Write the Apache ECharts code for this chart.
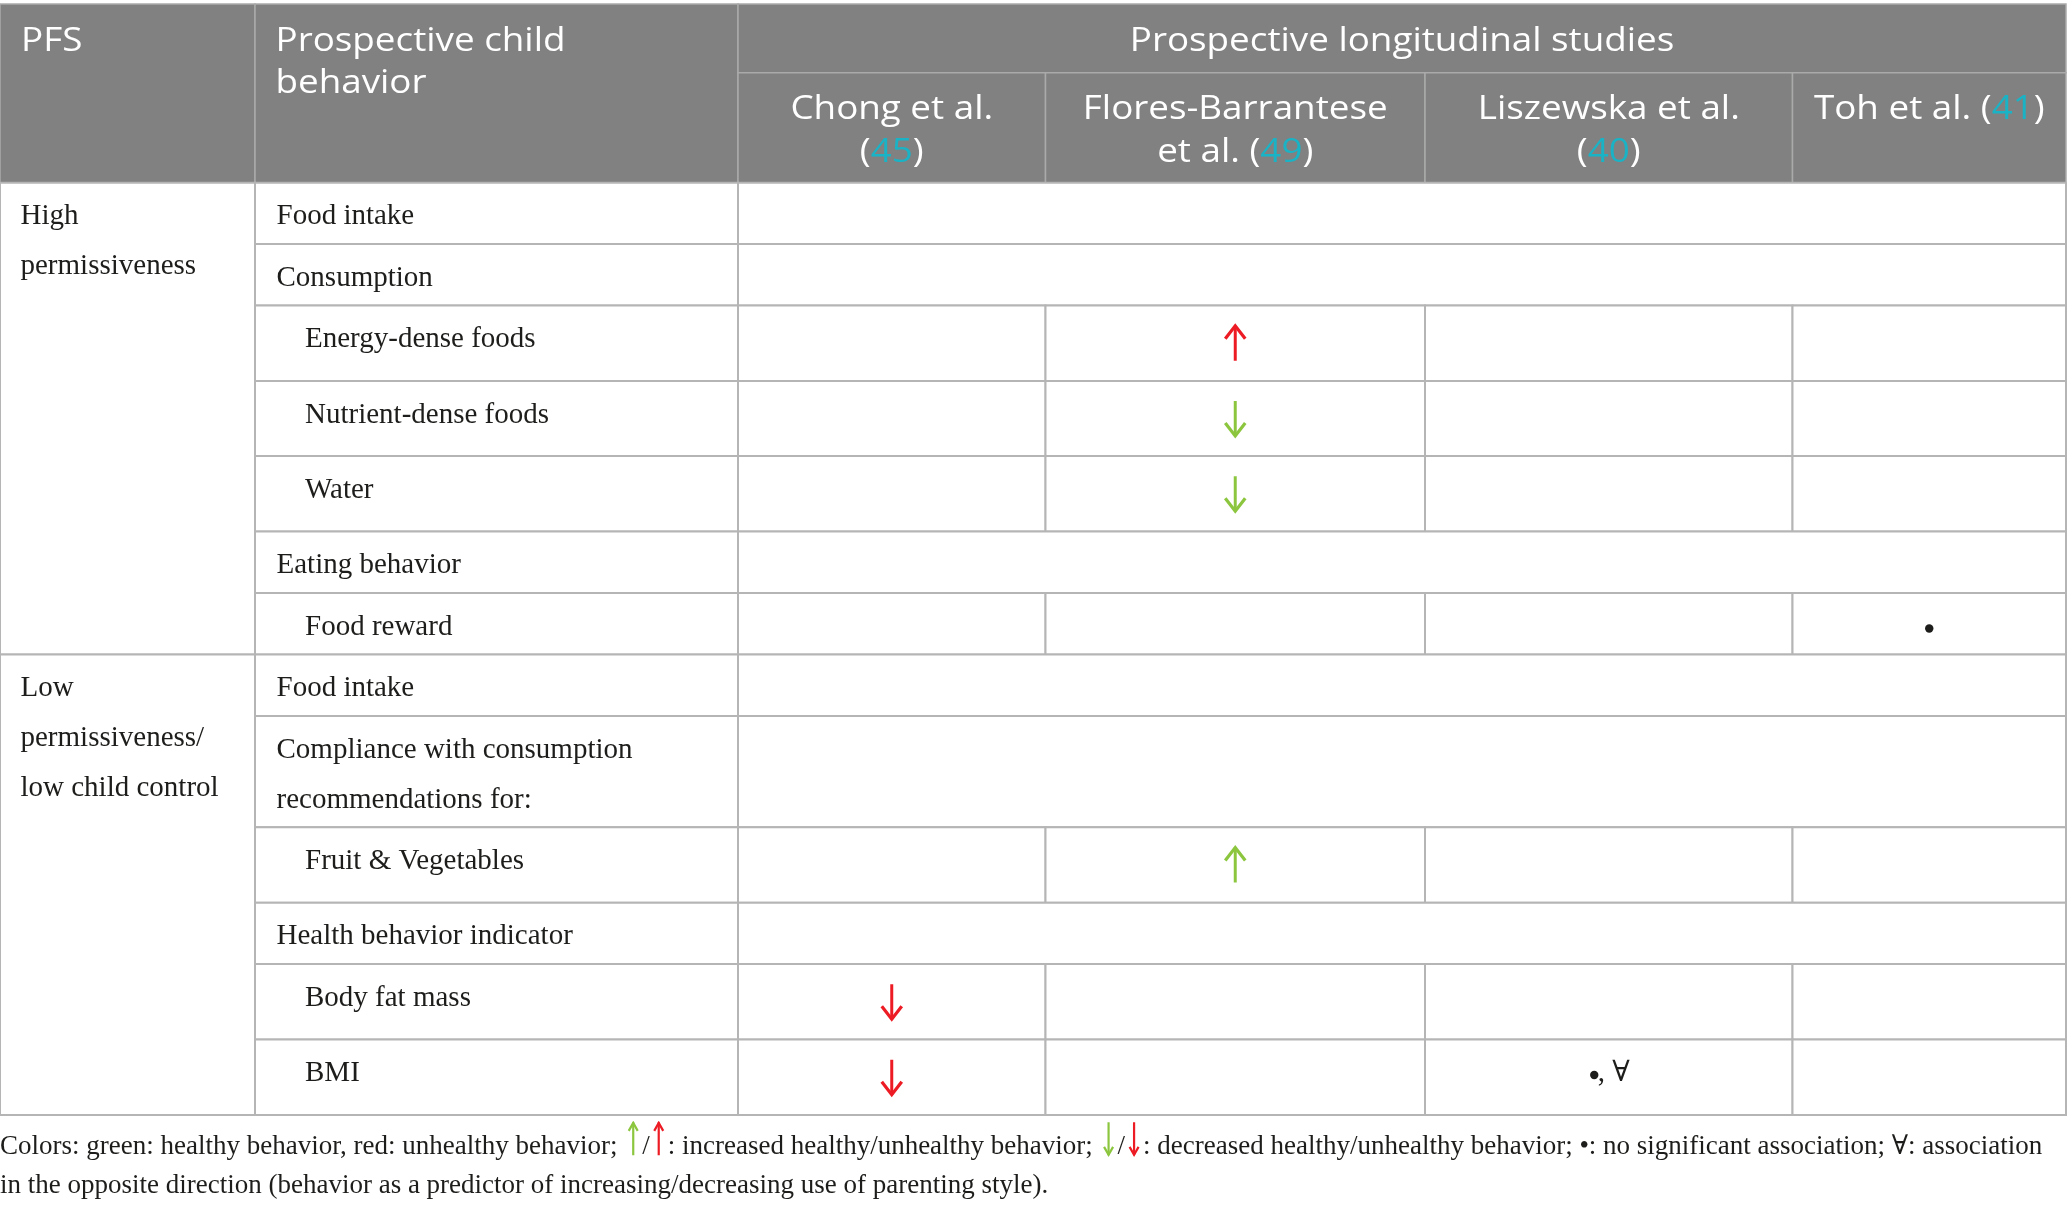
<!DOCTYPE html>
<html>
<head>
	<meta charset="utf-8">
	<title>PFS and prospective child behavior</title>
	<script src="https://cdn.jsdelivr.net/npm/echarts@6/dist/echarts.min.js"></script>
	<style>
		html, body { margin: 0; padding: 0; background: #fff; }
		#chart { width: 2067px; height: 1205px; }
	</style>
</head>
<body>
<div id="chart"></div>
<script type="text/javascript">
	// ---- table content ----
	var headerLabels = ['PFS', 'Prospective child\nbehavior', 'Prospective longitudinal studies'];
	var studyNames = ['Chong et al.\n', 'Flores-Barrantese\net al. ', 'Liszewska et al.\n', 'Toh et al. '];
	var studyRefs = ['45', '49', '40', '41'];
	var pfsGroups = ['High\npermissiveness', 'Low\npermissiveness/\nlow child control'];
	var behaviors = ['Food intake', 'Consumption', 'Energy-dense foods', 'Nutrient-dense foods', 'Water',
		'Eating behavior', 'Food reward', 'Food intake', 'Compliance with consumption\nrecommendations for:',
		'Fruit & Vegetables', 'Health behavior indicator', 'Body fat mass', 'BMI'];
	var behaviorGroup = [0, 0, 0, 0, 0, 0, 0, 1, 1, 1, 1, 1, 1];
	var behaviorLevel = [0, 0, 1, 1, 1, 0, 1, 0, 0, 1, 0, 1, 1];
	// [behavior index, study index, result]
	var findings = [
		[2, 1, 'unhealthyUp'],
		[3, 1, 'healthyDown'],
		[4, 1, 'healthyDown'],
		[6, 3, 'ns'],
		[9, 1, 'healthyUp'],
		[11, 0, 'unhealthyDown'],
		[12, 0, 'unhealthyDown'],
		[12, 2, 'nsReverse']
	];
	var footnoteLines = [
		[['Colors: green: healthy behavior, red: unhealthy behavior; ', 'f'], [' ', 'gu'], ['/', 'f'], [' ', 'ru'],
			[': increased healthy/unhealthy behavior; ', 'f'], [' ', 'gd'], ['/', 'f'], [' ', 'rd'],
			[': decreased healthy/unhealthy behavior; •: no significant association; ∀: association', 'f']],
		[['in the opposite direction (behavior as a predictor of increasing/decreasing use of parenting style).', 'f']]
	];

	// ---- layout ----
	var colWidths = [255, 483, 307.5, 379.5, 367.5, 273.5];
	var headRowHeights = [68.7, 110];
	var rowHeights = [61.3, 61.5, 75.5, 75, 75.5, 61.5, 61.5, 61.5, 111.3, 75.4, 61.3, 75.5, 75.5];
	var serif = '"Liberation Serif", "DejaVu Serif", serif';
	var sans = '"Open Sans", "Noto Sans", sans-serif';
	var red = '#ed1c24', green = '#8cc63f', teal = '#1ab3c6', ink = '#1d1d1b';
	var headSize = 32, headStretch = 1.15;
	var bodyPad = 9;

	var colEdges = [0];
	colWidths.forEach(function(w) { colEdges.push(colEdges[colEdges.length - 1] + w); });
	var headH = headRowHeights[0] + headRowHeights[1];
	var rowEdges = [headH];
	rowHeights.forEach(function(h) { rowEdges.push(rowEdges[rowEdges.length - 1] + h); });
	var tableW = colEdges[colEdges.length - 1];
	var tableH = rowEdges[rowEdges.length - 1];

	// cells
	var headCells = [];
	var bodyCells = [];
	headCells.push([colEdges[0], 0, colEdges[1], headH]);
	headCells.push([colEdges[1], 0, colEdges[2], headH]);
	headCells.push([colEdges[2], 0, tableW, headRowHeights[0]]);
	studyNames.forEach(function(s, j) {
		headCells.push([colEdges[2 + j], headRowHeights[0], colEdges[3 + j], headH]);
	});
	pfsGroups.forEach(function(g, gi) {
		var first = behaviorGroup.indexOf(gi);
		var last = behaviorGroup.lastIndexOf(gi);
		bodyCells.push([colEdges[0], rowEdges[first], colEdges[1], rowEdges[last + 1]]);
	});
	behaviors.forEach(function(b, i) {
		bodyCells.push([colEdges[1], rowEdges[i], colEdges[2], rowEdges[i + 1]]);
		if (behaviorLevel[i] === 0) {
			bodyCells.push([colEdges[2], rowEdges[i], tableW, rowEdges[i + 1]]);
		} else {
			for (var j = 0; j < studyNames.length; j++) {
				bodyCells.push([colEdges[2 + j], rowEdges[i], colEdges[3 + j], rowEdges[i + 1]]);
			}
		}
	});

	// texts
	var texts = [];
	texts.push({ x: colEdges[0] + 21, y: 17, text: headerLabels[0], align: 'left', kind: 'head' });
	texts.push({ x: colEdges[1] + 20.5, y: 17, text: headerLabels[1], align: 'left', kind: 'head' });
	texts.push({ x: (colEdges[2] + tableW) / 2, y: 17, text: headerLabels[2], align: 'center', kind: 'head' });
	studyNames.forEach(function(s, j) {
		var parts = s.split('\n');
		var rich = parts.length > 1 ? '{t|' + parts[0] + '}\n{t|' + parts[1] + '(}' : '{t|' + s + '(}';
		rich += '{n|' + studyRefs[j] + '}{t|)}';
		texts.push({ x: (colEdges[2 + j] + colEdges[3 + j]) / 2, y: headRowHeights[0] + 15.5, text: rich, align: 'center', kind: 'study' });
	});
	pfsGroups.forEach(function(g, gi) {
		texts.push({ x: colEdges[0] + 20.5, y: rowEdges[behaviorGroup.indexOf(gi)] + bodyPad, text: g, align: 'left', kind: 'body' });
	});
	behaviors.forEach(function(b, i) {
		texts.push({ x: colEdges[1] + 21.5 + behaviorLevel[i] * 28.5, y: rowEdges[i] + bodyPad, text: b, align: 'left', kind: 'body' });
	});

	// arrows, dots and the reverse sign
	var arrows = [];
	var dots = [];
	findings.forEach(function(f) {
		var cx = (colEdges[2 + f[1]] + colEdges[3 + f[1]]) / 2;
		var top = rowEdges[f[0]];
		if (f[2] === 'ns') {
			dots.push([cx, top + 35.5]);
		} else if (f[2] === 'nsReverse') {
			dots.push([cx - 14.5, top + 35.5]);
			texts.push({ x: cx - 11, y: top + bodyPad, text: ', ∀', align: 'left', kind: 'body' });
		} else {
			arrows.push({
				x: cx,
				y: (top + rowEdges[f[0] + 1]) / 2,
				dir: /Up$/.test(f[2]) ? -1 : 1,
				color: /^healthy/.test(f[2]) ? green : red
			});
		}
	});

	function textStyle(t) {
		var s = { text: t.text, align: t.align, verticalAlign: 'top' };
		if (t.kind === 'body') {
			s.fontSize = 29; s.fontFamily = serif; s.lineHeight = 50; s.fill = ink;
		} else {
			var lh = t.kind === 'study' ? 43.3 : 41.7;
			s.fontSize = headSize; s.fontFamily = sans; s.fill = '#ffffff'; s.lineHeight = lh;
			if (t.kind === 'study') {
				s.rich = {
					t: { fontSize: headSize, fontFamily: sans, lineHeight: lh, fill: '#ffffff', color: '#ffffff' },
					n: { fontSize: headSize, fontFamily: sans, lineHeight: lh, fill: teal, color: teal }
				};
			}
		}
		return s;
	}

	function rectItem(fill, stroke, lw) {
		return function(params, api) {
			var p0 = api.coord([api.value(0), api.value(1)]);
			var p1 = api.coord([api.value(2), api.value(3)]);
			return {
				type: 'rect',
				shape: { x: p0[0], y: p0[1], width: p1[0] - p0[0], height: p1[1] - p0[1] },
				style: { fill: fill, stroke: stroke, lineWidth: lw }
			};
		};
	}

	// small arrow pictures for the footnote
	function arrowIcon(color, up) {
		var head = up ? 'M4.5 10 L9 2 L13.5 10' : 'M4.5 26 L9 34 L13.5 26';
		var svg = '<svg xmlns="http://www.w3.org/2000/svg" width="18" height="52" viewBox="0 0 18 52">' +
			'<path d="M9 1.5 L9 34.5" stroke="' + color + '" stroke-width="2.2" fill="none"/>' +
			'<path d="' + head + '" stroke="' + color + '" stroke-width="2.2" fill="none" stroke-linejoin="miter"/></svg>';
		return 'data:image/svg+xml;charset=utf-8,' + encodeURIComponent(svg);
	}
	var footBase = { fontSize: 27, fontFamily: serif, fontWeight: 'normal', color: ink, lineHeight: 38.7 };
	function iconStyle(color, up) {
		return { width: 18, height: 52, lineHeight: 38.7, fontSize: 27, backgroundColor: { image: arrowIcon(color, up) } };
	}
	var footRich = {
		f: footBase,
		gu: iconStyle(green, true),
		ru: iconStyle(red, true),
		gd: iconStyle(green, false),
		rd: iconStyle(red, false)
	};
	var footText = footnoteLines.map(function(line) {
		return line.map(function(p) { return '{' + p[1] + '|' + p[0] + '}'; }).join('');
	}).join('\n');

	var myChart = echarts.init(document.getElementById('chart'));
	var option = {
		animation: false,
		backgroundColor: '#ffffff',
		title: {
			left: 0,
			top: 1127.5,
			padding: 0,
			text: footText,
			textStyle: { fontWeight: 'normal', fontFamily: serif, fontSize: 27, color: ink, rich: footRich }
		},
		grid: { left: 0, top: 4, width: tableW, height: tableH },
		xAxis: { type: 'value', min: 0, max: tableW, show: false },
		yAxis: { type: 'value', min: 0, max: tableH, inverse: true, show: false },
		series: [{
			type: 'custom',
			data: headCells,
			renderItem: rectItem('#808180', '#a9aaa9', 1.5),
			silent: true
		}, {
			type: 'custom',
			data: bodyCells,
			renderItem: rectItem('#ffffff', '#b5b5b5', 2),
			silent: true
		}, {
			type: 'custom',
			data: texts.map(function(t) { return [t.x, t.y]; }),
			renderItem: function(params, api) {
				var t = texts[params.dataIndex];
				var p = api.coord([api.value(0), api.value(1)]);
				var el = { type: 'text', x: p[0], y: p[1], style: textStyle(t) };
				if (t.kind !== 'body') {
					el.scaleX = headStretch;
				}
				return el;
			},
			silent: true
		}, {
			type: 'custom',
			data: dots,
			renderItem: function(params, api) {
				var c = api.coord([api.value(0), api.value(1)]);
				return { type: 'circle', shape: { cx: c[0], cy: c[1], r: 4.2 }, style: { fill: ink } };
			},
			silent: true
		}, {
			type: 'custom',
			data: arrows.map(function(a) { return [a.x, a.y]; }),
			renderItem: function(params, api) {
				var a = arrows[params.dataIndex];
				var c = api.coord([api.value(0), api.value(1)]);
				var half = 17.5, d = a.dir;
				return {
					type: 'group',
					children: [{
						type: 'line',
						shape: { x1: c[0], y1: c[1] - half, x2: c[0], y2: c[1] + half },
						style: { stroke: a.color, lineWidth: 3 }
					}, {
						type: 'polyline',
						shape: { points: [[c[0] - 10, c[1] + d * (half - 13)], [c[0], c[1] + d * half], [c[0] + 10, c[1] + d * (half - 13)]] },
						style: { stroke: a.color, lineWidth: 3.2, fill: 'none', lineJoin: 'miter' }
					}]
				};
			},
			silent: true
		}]
	};
	myChart.setOption(option);
</script>
</body>
</html>
